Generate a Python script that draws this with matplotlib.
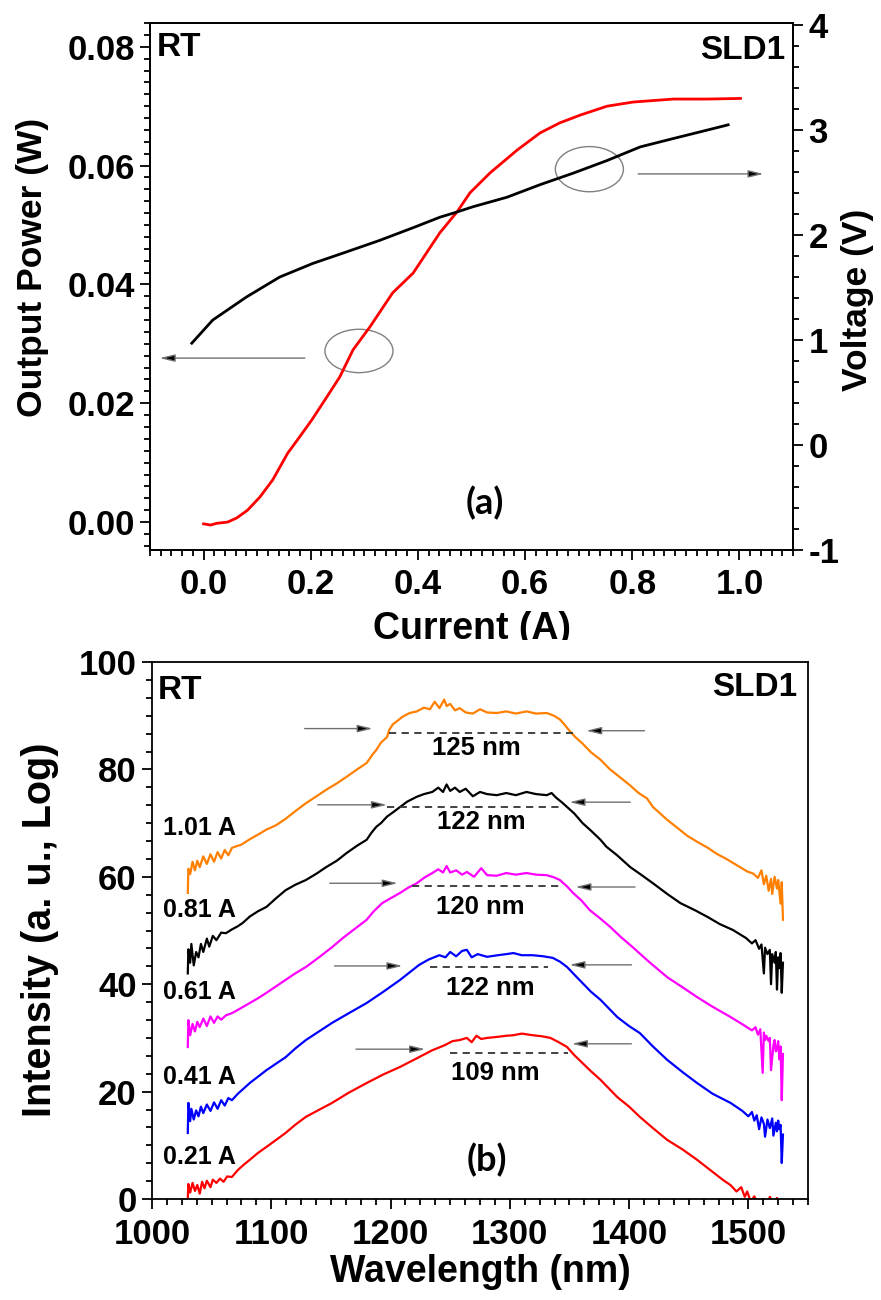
import numpy as np
import matplotlib
matplotlib.use("Agg")
import matplotlib.pyplot as plt
from matplotlib.patches import Ellipse, Rectangle
from matplotlib.ticker import MultipleLocator

plt.rcParams['font.family'] = ['Liberation Sans', 'DejaVu Sans']
plt.rcParams['font.weight'] = 'bold'
plt.rcParams['axes.unicode_minus'] = False

# ---- (a) L-I-V data ----
current_p = [0.0, 0.013, 0.025, 0.045, 0.062, 0.082, 0.105, 0.129, 0.157, 0.179,
             0.202, 0.226, 0.254, 0.279, 0.310, 0.353, 0.391, 0.441, 0.473, 0.497,
             0.535, 0.585, 0.628, 0.665, 0.703, 0.753, 0.802, 0.877, 0.940, 1.002]
power = [-0.0003, -0.0005, -0.0002, 0.0000, 0.0007, 0.0020, 0.0042, 0.0071, 0.0116, 0.0143,
         0.0172, 0.0205, 0.0244, 0.0290, 0.0328, 0.0386, 0.0419, 0.0487, 0.0522, 0.0554,
         0.0588, 0.0626, 0.0655, 0.0672, 0.0685, 0.0700, 0.0707, 0.0712, 0.0712, 0.0713]
current_v = [-0.022, 0.017, 0.080, 0.142, 0.204, 0.267, 0.329, 0.391, 0.441, 0.473,
             0.503, 0.566, 0.628, 0.690, 0.753, 0.815, 0.877, 0.940, 0.979]
voltage = [0.97, 1.19, 1.41, 1.60, 1.73, 1.84, 1.95, 2.07, 2.17, 2.22,
           2.27, 2.36, 2.48, 2.59, 2.71, 2.84, 2.92, 3.00, 3.05]

# ---- (b) spectra data ----
wl_101 = [1030, 1030.5, 1032, 1034, 1036, 1038, 1040, 1043, 1046, 1049, 1052, 1055, 1058, 1061, 1064, 1067,
          1075, 1082, 1090, 1096, 1104, 1112, 1120, 1129, 1138, 1146, 1155, 1163, 1172, 1180, 1185, 1188,
          1192, 1197, 1199, 1202, 1205, 1210, 1216, 1222, 1228, 1233, 1237, 1241, 1245, 1247, 1250, 1254,
          1258, 1263, 1269, 1275, 1281, 1289, 1297, 1305, 1314, 1322, 1331, 1337, 1342, 1346, 1350, 1355,
          1361, 1368, 1376, 1384, 1392, 1401, 1408, 1415, 1420, 1426, 1432, 1440, 1449, 1458, 1466, 1474,
          1481, 1487, 1493, 1499, 1504, 1508, 1511, 1513, 1515, 1517, 1519, 1520, 1522, 1524, 1525, 1527,
          1528, 1529]
int_101 = [57.0, 61.5, 60.5, 62.8, 61.2, 63.0, 61.8, 63.8, 62.4, 64.2, 62.8, 64.6, 63.4, 65.0, 64.0, 65.4,
           66.0, 67.0, 68.0, 68.8, 69.6, 70.8, 72.2, 73.7, 75.0, 76.2, 77.4, 78.6, 80.0, 81.2, 82.8, 83.6,
           85.0, 86.0, 87.4, 88.4, 88.9, 89.8, 90.5, 90.8, 91.5, 91.2, 92.6, 91.4, 93.0, 91.8, 92.2, 91.0,
           91.4, 90.6, 90.4, 91.2, 90.6, 90.5, 90.8, 90.4, 90.8, 90.4, 90.5, 90.0, 89.3, 88.3, 87.2, 86.0,
           84.8, 83.2, 81.8, 80.0, 78.6, 77.0, 75.6, 74.6, 73.0, 71.8, 70.6, 69.2, 67.6, 66.4, 65.4, 64.2,
           63.4, 62.6, 61.8, 61.0, 60.6, 59.8, 61.2, 58.6, 60.2, 57.4, 59.6, 56.8, 60.0, 57.8, 59.4, 55.0,
           59.0, 52.0]

wl_081 = [1030, 1030.5, 1032, 1033, 1035, 1037, 1039, 1041, 1043, 1046, 1048, 1051, 1054, 1058, 1062, 1067,
          1072, 1076, 1082, 1089, 1096, 1104, 1112, 1120, 1129, 1138, 1146, 1155, 1163, 1172, 1180, 1184,
          1188, 1192, 1197, 1202, 1208, 1214, 1222, 1228, 1235, 1240, 1244, 1247, 1250, 1254, 1258, 1263,
          1269, 1275, 1281, 1289, 1297, 1305, 1314, 1322, 1331, 1335, 1339, 1344, 1348, 1354, 1361, 1368,
          1376, 1381, 1390, 1401, 1410, 1420, 1432, 1443, 1455, 1466, 1476, 1487, 1498, 1503, 1506, 1509,
          1511, 1513, 1514, 1516, 1518, 1519, 1520, 1522, 1523, 1524, 1525, 1526, 1527, 1528, 1529]
int_081 = [42.0, 46.5, 44.0, 47.5, 43.5, 46.0, 45.0, 47.5, 46.0, 48.5, 47.0, 49.0, 48.2, 49.6, 49.5, 50.2,
           50.8, 51.4, 52.6, 53.6, 54.4, 56.0, 57.5, 58.5, 59.4, 60.6, 61.8, 63.0, 64.4, 65.8, 66.9, 68.2,
           69.3, 70.0, 71.2, 72.0, 73.0, 74.0, 74.9, 75.4, 75.8, 76.6, 75.8, 77.2, 76.0, 76.6, 75.8, 76.4,
           75.0, 75.8, 75.4, 75.2, 75.6, 75.2, 75.8, 75.4, 75.2, 75.6, 74.7, 73.8, 73.0, 71.8, 70.0, 68.6,
           66.9, 65.6, 64.0, 61.8, 60.4, 58.8, 56.8, 55.1, 53.8, 52.5, 51.2, 50.1, 48.6, 47.6, 48.2, 46.6,
           47.4, 42.0, 46.8, 45.6, 46.4, 40.0, 45.6, 44.0, 46.0, 39.0, 45.0, 43.0, 45.8, 38.4, 44.0]

wl_061 = [1030, 1030.5, 1032, 1034, 1036, 1038, 1040, 1043, 1046, 1049, 1052, 1055, 1058, 1062, 1067, 1075,
          1082, 1089, 1096, 1104, 1112, 1120, 1129, 1140, 1151, 1160, 1170, 1180, 1186, 1193, 1200, 1208,
          1215, 1222, 1228, 1235, 1240, 1244, 1247, 1250, 1255, 1260, 1264, 1270, 1276, 1281, 1289, 1297,
          1305, 1314, 1322, 1331, 1337, 1342, 1348, 1353, 1360, 1367, 1376, 1384, 1393, 1403, 1415, 1424,
          1432, 1445, 1457, 1470, 1485, 1496, 1503, 1506, 1508, 1510, 1512, 1513, 1514, 1515, 1517, 1518,
          1519, 1521, 1522, 1523, 1524, 1525, 1526, 1527, 1528, 1529]
int_061 = [28.3, 33.3, 30.5, 32.6, 31.2, 33.0, 32.0, 33.6, 32.2, 34.0, 32.8, 34.0, 33.4, 34.2, 34.6, 35.6,
           36.5, 37.4, 38.4, 39.6, 40.8, 42.0, 43.2, 45.0, 46.9, 48.6, 50.3, 52.0, 53.6, 55.1, 56.0, 57.0,
           58.0, 58.8, 59.8, 60.7, 61.4, 60.8, 62.0, 60.8, 61.2, 60.4, 60.9, 60.0, 61.6, 60.3, 60.2, 60.7,
           60.4, 60.7, 60.4, 60.3, 59.9, 59.4, 58.2, 57.0, 55.6, 53.8, 52.2, 50.7, 48.8, 46.9, 44.5, 42.8,
           41.3, 39.4, 37.6, 35.8, 33.9, 32.4, 31.4, 32.0, 30.6, 31.6, 23.5, 31.0, 29.6, 30.4, 29.4, 30.0,
           24.0, 28.6, 29.6, 27.5, 28.0, 29.4, 26.0, 28.4, 18.4, 27.0]

wl_041 = [1030, 1030.5, 1032, 1033, 1035, 1037, 1039, 1041, 1043, 1046, 1049, 1052, 1055, 1058, 1061, 1064,
          1067, 1072, 1076, 1082, 1089, 1096, 1104, 1112, 1120, 1129, 1140, 1151, 1165, 1180, 1194, 1208,
          1216, 1224, 1232, 1241, 1246, 1250, 1255, 1260, 1264, 1268, 1273, 1281, 1290, 1297, 1303, 1310,
          1319, 1328, 1336, 1342, 1348, 1354, 1361, 1368, 1376, 1383, 1390, 1400, 1409, 1420, 1432, 1445,
          1457, 1470, 1485, 1495, 1500, 1503, 1505, 1507, 1509, 1511, 1513, 1514, 1516, 1518, 1520, 1521,
          1523, 1524, 1525, 1526, 1527, 1528, 1529]
int_041 = [12.3, 17.9, 14.5, 16.8, 14.8, 16.5, 15.4, 17.2, 16.0, 17.6, 16.4, 18.0, 16.8, 18.4, 17.4, 18.8,
           18.4, 19.6, 20.4, 21.6, 22.8, 24.0, 25.2, 26.4, 28.0, 29.6, 31.2, 32.8, 34.6, 36.5, 38.6, 40.8,
           42.2, 43.6, 44.6, 45.4, 45.0, 46.0, 45.2, 46.2, 46.4, 45.0, 45.6, 45.1, 45.4, 45.6, 45.8, 45.4,
           45.4, 45.2, 44.9, 44.2, 43.2, 41.8, 40.2, 38.6, 37.1, 35.5, 33.9, 32.2, 30.9, 28.4, 25.9, 23.6,
           21.6, 19.6, 17.9, 16.4, 15.4, 16.2, 14.6, 15.6, 13.0, 15.2, 14.0, 11.6, 14.8, 13.2, 15.0, 11.8,
           14.2, 12.6, 14.6, 13.0, 13.8, 6.7, 12.0]

wl_021 = [1030, 1030.5, 1032, 1034, 1036, 1038, 1040, 1042, 1044, 1046, 1049, 1051, 1054, 1057, 1060, 1063,
          1067, 1072, 1077, 1082, 1089, 1096, 1104, 1112, 1120, 1129, 1140, 1151, 1165, 1180, 1194, 1208,
          1222, 1235, 1245, 1252, 1258, 1264, 1268, 1272, 1276, 1281, 1290, 1297, 1303, 1310, 1319, 1327,
          1334, 1341, 1348, 1354, 1361, 1368, 1376, 1383, 1390, 1400, 1409, 1420, 1432, 1445, 1457, 1468,
          1479, 1485, 1490, 1494, 1497, 1499, 1502, 1505, 1508, 1513, 1516, 1518, 1521, 1524, 1526]
int_021 = [0.0, 2.8, 1.2, 3.0, 1.5, 2.6, 1.0, 3.2, 2.0, 3.4, 2.2, 3.6, 3.0, 3.8, 3.2, 4.2,
           4.1, 5.4, 6.4, 7.3, 8.6, 9.7, 11.0, 12.3, 13.8, 15.3, 16.6, 17.9, 19.8, 21.6, 23.2, 24.6,
           26.2, 27.7, 28.6, 29.4, 29.6, 30.0, 29.2, 30.4, 29.8, 30.0, 30.2, 30.4, 30.5, 30.8, 30.5, 30.3,
           30.0, 29.2, 28.3, 26.8, 25.3, 23.8, 22.2, 20.6, 19.0, 17.2, 15.3, 13.2, 11.0, 9.2, 7.3, 5.4,
           3.5, 2.6, 1.4, 2.2, 0.4, 1.4, -0.5, 0.5, -1.0, 0.0, -1.0, 0.4, -1.0, 0.2, -1.0]

currents = ['1.01 A', '0.81 A', '0.61 A', '0.41 A', '0.21 A']
current_label_y = [69.1, 53.8, 38.5, 22.7, 7.8]
colors = ['#FF8000', 'black', '#FF00FF', '#0000FF', '#FF0000']
spectra = [(wl_101, int_101), (wl_081, int_081), (wl_061, int_061), (wl_041, int_041), (wl_021, int_021)]

# FWHM markers: label, dashed line, left and right arrows
fwhm_text = ['125 nm', '122 nm', '120 nm', '122 nm', '109 nm']
fwhm_text_x = [1272, 1276, 1275, 1284, 1288]
fwhm_text_y = [84.0, 70.2, 54.4, 39.3, 23.5]
dash_x0 = [1199, 1197, 1218, 1233, 1250]
dash_x1 = [1353, 1342, 1345, 1332, 1349]
dash_y = [86.8, 73.0, 58.3, 43.2, 27.2]
larrow_x0 = [1128, 1139, 1149, 1153, 1171]
larrow_x1 = [1185, 1197, 1206, 1210, 1229]
larrow_y = [87.6, 73.4, 58.8, 43.4, 27.9]
rarrow_x0 = [1413, 1401, 1405, 1402, 1402]
rarrow_x1 = [1364, 1350, 1355, 1350, 1352]
rarrow_y = [87.2, 73.9, 58.1, 43.6, 28.9]

W, H = 881, 1300
fig = plt.figure(figsize=(W / 100, H / 100), dpi=100)

def style_axis(a, labelsize=25):
    a.tick_params(which='both', direction='out', width=1.3, labelsize=labelsize)
    a.tick_params(which='major', length=7)
    a.tick_params(which='minor', length=4)
    for s in a.spines.values():
        s.set_linewidth(1.3)

arrow_kw = dict(arrowstyle='-|>,head_length=0.9,head_width=0.22', fc='black', ec='#707070',
                lw=1.0, shrinkA=0, shrinkB=0)

# ================= panel (a) =================
ax = fig.add_axes([150 / W, 1 - 550 / H, 643 / W, 527 / H])
ax2 = ax.twinx()
ax.plot(current_p, power, color='#FF0000', lw=2.0)
ax2.plot(current_v, voltage, color='black', lw=2.0)
ax.set_xlim(-0.1, 1.1)
ax.set_ylim(-0.0047, 0.084)
ax2.set_ylim(-1, 4.02)
ax.xaxis.set_major_locator(MultipleLocator(0.2))
ax.xaxis.set_minor_locator(MultipleLocator(0.02))
ax.yaxis.set_major_locator(MultipleLocator(0.02))
ax.yaxis.set_minor_locator(MultipleLocator(0.002))
ax2.yaxis.set_major_locator(MultipleLocator(1))
ax2.yaxis.set_minor_locator(MultipleLocator(0.2))
ax.xaxis.set_major_formatter(matplotlib.ticker.FormatStrFormatter('%.1f'))
ax.yaxis.set_major_formatter(matplotlib.ticker.FormatStrFormatter('%.2f'))
style_axis(ax)
style_axis(ax2)
ax.tick_params(axis='x', pad=6)
ax.tick_params(axis='y', pad=4)
ax2.tick_params(axis='y', pad=4)
ax.tick_params(top=False, right=False, which='both')

ax.add_patch(Ellipse((0.290, 0.0288), 0.127, 0.0073, fill=False, ec='#808080', lw=1.0))
ax.add_patch(Ellipse((0.720, 0.0594), 0.127, 0.0076, fill=False, ec='#808080', lw=1.0))
ax.annotate('', xy=(-0.082, 0.0276), xytext=(0.189, 0.0276), arrowprops=arrow_kw)
ax.annotate('', xy=(1.045, 0.0586), xytext=(0.811, 0.0586), arrowprops=arrow_kw)

ax.text(0.011, 0.983, 'RT', transform=ax.transAxes, ha='left', va='top', fontsize=24)
ax.text(0.988, 0.977, 'SLD1', transform=ax.transAxes, ha='right', va='top', fontsize=24)
ax.text(0.521, 0.089, '(a)', transform=ax.transAxes, ha='center', va='center', fontsize=26,
        family=['Lato', 'DejaVu Sans'])

fig.text(33 / W, 1 - 267 / H, 'Output Power (W)', rotation=90, ha='center', va='center', fontsize=25.5)
fig.text(858 / W, 1 - 300 / H, 'Voltage (V)', rotation=90, ha='center', va='center', fontsize=25.5)
fig.text(472 / W, 1 - 639 / H, 'Current (A)', ha='center', va='baseline', fontsize=27)
# bottom panel hides the lower edge of the current label
fig.add_artist(Rectangle((330 / W, 1 - 661 / H), 300 / W, 21 / H, transform=fig.transFigure,
                         fc='white', ec='none', zorder=5))

# ================= panel (b) =================
bx = fig.add_axes([152 / W, 1 - 1199 / H, 656 / W, 537 / H], zorder=6)
for (wl, inten), c in zip(spectra, colors):
    bx.plot(wl, inten, color=c, lw=1.6)
bx.set_xlim(1000, 1550)
bx.set_ylim(0, 100)
bx.xaxis.set_major_locator(MultipleLocator(100))
bx.xaxis.set_minor_locator(MultipleLocator(12.5))
bx.yaxis.set_major_locator(MultipleLocator(20))
bx.yaxis.set_minor_locator(MultipleLocator(20 / 6))
style_axis(bx)
bx.tick_params(axis='x', pad=7)
bx.tick_params(axis='y', pad=4)
bx.tick_params(top=False, right=False, which='both')

for i in range(5):
    bx.plot([dash_x0[i], dash_x1[i]], [dash_y[i]] * 2, color='#333333', lw=1.3, dashes=(4, 3))
    bx.annotate('', xy=(larrow_x1[i], larrow_y[i]), xytext=(larrow_x0[i], larrow_y[i]), arrowprops=arrow_kw)
    bx.annotate('', xy=(rarrow_x1[i], rarrow_y[i]), xytext=(rarrow_x0[i], rarrow_y[i]), arrowprops=arrow_kw)
    bx.text(fwhm_text_x[i], fwhm_text_y[i], fwhm_text[i], ha='center', va='center', fontsize=18.5)
    bx.text(1040, current_label_y[i], currents[i], ha='center', va='center', fontsize=18)

bx.text(0.009, 0.976, 'RT', transform=bx.transAxes, ha='left', va='top', fontsize=24)
bx.text(0.983, 0.981, 'SLD1', transform=bx.transAxes, ha='right', va='top', fontsize=24)
bx.text(0.511, 0.073, '(b)', transform=bx.transAxes, ha='center', va='center', fontsize=26,
        family=['Lato', 'DejaVu Sans'])

fig.text(40 / W, 1 - 930 / H, 'Intensity (a. u., Log)', rotation=90, ha='center', va='center', fontsize=28.5)
fig.text(480 / W, 1 - 1282 / H, 'Wavelength (nm)', ha='center', va='baseline', fontsize=27)

fig.savefig('out.png', dpi=100, facecolor='white')
